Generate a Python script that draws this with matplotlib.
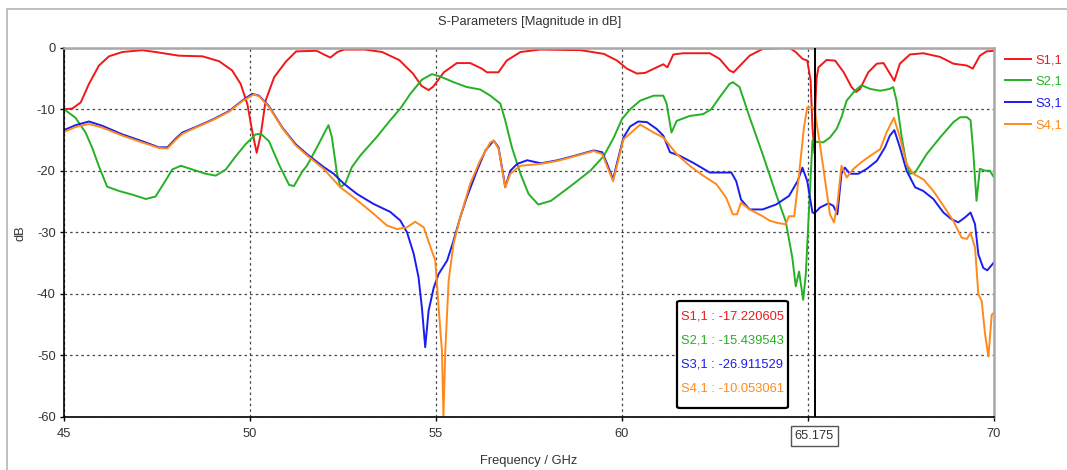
import matplotlib
matplotlib.use("Agg")
import matplotlib.pyplot as plt
from matplotlib.patches import Rectangle, FancyBboxPatch

plt.rcParams["font.family"] = ["Liberation Sans", "DejaVu Sans"]
plt.rcParams["axes.unicode_minus"] = False

# S-parameter traces (GHz, dB)
s11_f = [45, 45.22, 45.45, 45.67, 45.94, 46.21, 46.57, 47.1, 47.46, 48.09, 48.72, 49.17,
         49.52, 49.75, 49.93, 50.06, 50.18, 50.29, 50.42, 50.65, 50.96, 51.24, 51.79, 52.02,
         52.16, 52.35, 52.53, 53.09, 53.55, 54.01, 54.38, 54.61, 54.8, 54.93, 55.21, 55.56,
         55.92, 56.23, 56.37, 56.68, 56.9, 57.27, 57.8, 58.89, 59.51, 59.87, 60.13, 60.4,
         60.62, 60.93, 61.11, 61.22, 61.38, 61.65, 62.36, 62.62, 62.89, 63.0, 63.16, 63.43,
         63.78, 64.49, 64.67, 64.85, 64.98, 65.07, 65.12, 65.175, 65.2, 65.23, 65.28, 65.5,
         65.73, 65.96, 66.17, 66.29, 66.4, 66.62, 66.85, 67.03, 67.2, 67.32, 67.47, 67.74,
         68.1, 68.55, 68.91, 69.27, 69.43, 69.62, 69.8, 70]
s11_db = [-10, -9.9, -8.9, -5.9, -2.9, -1.4, -0.7, -0.4, -0.7, -1.3, -1.4, -2.2,
          -3.7, -5.9, -9.2, -13.6, -17.1, -14.1, -8.6, -4.8, -2.3, -0.6, -0.5, -1.2,
          -1.6, -0.7, -0.3, -0.3, -0.7, -2.0, -4.2, -6.2, -6.9, -6.3, -4.0, -2.5,
          -2.5, -3.4, -4.0, -4.0, -2.1, -0.7, -0.3, -0.4, -1.0, -2.1, -3.4, -4.2,
          -4.1, -3.2, -2.7, -3.2, -1.1, -0.9, -0.9, -1.8, -3.7, -4.0, -3.0, -1.3,
          -0.2, 0, -0.7, -1.8, -2.1, -5.3, -13.0, -17.2, -9.0, -5.0, -3.2, -2.0,
          -2.1, -4.0, -6.4, -7.2, -6.7, -4.0, -2.6, -2.5, -4.2, -5.4, -2.6, -1.1,
          -0.9, -1.5, -2.6, -2.9, -3.4, -1.3, -0.6, -0.5]

s21_f = [45, 45.31, 45.58, 45.76, 45.94, 46.16, 46.48, 46.84, 47.2, 47.46, 47.69, 47.91,
         48.14, 48.45, 48.81, 49.08, 49.35, 49.61, 49.88, 50.15, 50.29, 50.51, 50.78, 51.05,
         51.18, 51.41, 51.53, 51.8, 52.03, 52.11, 52.2, 52.34, 52.43, 52.56, 52.74, 52.97,
         53.41, 53.77, 54.04, 54.31, 54.62, 54.89, 55.12, 55.47, 55.83, 56.19, 56.46, 56.73,
         56.86, 57.04, 57.27, 57.49, 57.75, 58.09, 58.62, 59.15, 59.51, 59.78, 60.0, 60.22,
         60.49, 60.85, 61.11, 61.2, 61.33, 61.47, 61.82, 62.18, 62.4, 62.62, 62.89, 62.98,
         63.16, 63.43, 63.78, 64.14, 64.4, 64.58, 64.67, 64.76, 64.87, 64.94, 65.03, 65.12,
         65.175, 65.23, 65.41, 65.59, 65.77, 65.9, 66.04, 66.26, 66.44, 66.67, 66.94, 67.2,
         67.29, 67.38, 67.52, 67.65, 67.74, 67.88, 68.19, 68.55, 68.91, 69.09, 69.27, 69.37,
         69.44, 69.53, 69.62, 69.76, 69.89, 70]
s21_db = [-10, -11.4, -13.8, -16.3, -19.3, -22.6, -23.3, -23.9, -24.6, -24.2, -22.0, -19.8,
          -19.2, -19.8, -20.5, -20.8, -19.8, -17.7, -15.7, -14.1, -14.0, -15.2, -19.0, -22.3,
          -22.5, -20.1, -19.2, -16.2, -13.5, -12.6, -14.5, -20.5, -22.7, -22.1, -19.4, -17.5,
          -14.5, -11.8, -9.9, -7.5, -5.2, -4.3, -4.7, -5.6, -6.4, -6.8, -7.8, -9.1,
          -11.8, -16.2, -20.5, -23.8, -25.5, -24.9, -22.5, -20.0, -17.6, -14.6, -11.6, -10.0,
          -8.6, -7.8, -7.8, -9.1, -13.8, -11.9, -11.1, -10.8, -10.0, -8.1, -5.9, -5.6,
          -6.4, -11.3, -17.3, -23.8, -28.2, -34.2, -38.8, -36.4, -41.0, -36.9, -26.0, -15.1,
          -15.4, -15.3, -15.4, -14.6, -13.2, -11.3, -8.6, -7.0, -6.1, -6.7, -7.0, -6.7,
          -6.4, -8.6, -14.6, -18.9, -20.5, -20.3, -17.3, -14.6, -12.1, -11.3, -11.3, -11.8,
          -16.7, -24.9, -19.7, -20.0, -20.0, -21.1]

s31_f = [45, 45.31, 45.67, 46.03, 46.57, 47.1, 47.55, 47.78, 48.0, 48.18, 48.54, 48.99,
         49.44, 49.79, 50.06, 50.24, 50.51, 50.87, 51.23, 51.53, 51.98, 52.25, 52.52, 52.88,
         53.32, 53.77, 54.04, 54.22, 54.4, 54.53, 54.62, 54.71, 54.8, 54.94, 55.07, 55.3,
         55.47, 55.65, 55.83, 56.1, 56.33, 56.55, 56.68, 56.82, 56.86, 57.0, 57.18, 57.45,
         57.82, 58.27, 58.71, 59.24, 59.47, 59.6, 59.76, 59.88, 60.04, 60.22, 60.44, 60.67,
         60.93, 61.11, 61.29, 61.56, 61.91, 62.36, 62.71, 62.94, 63.07, 63.2, 63.43, 63.78,
         64.14, 64.49, 64.72, 64.85, 64.98, 65.12, 65.175, 65.32, 65.55, 65.68, 65.79, 65.9,
         65.99, 66.13, 66.35, 66.58, 66.85, 67.07, 67.2, 67.32, 67.47, 67.65, 67.88, 68.1,
         68.37, 68.64, 68.86, 69.04, 69.22, 69.37, 69.49, 69.58, 69.71, 69.82, 70]
s31_db = [-13.4, -12.6, -12.0, -12.7, -14.1, -15.2, -16.2, -16.2, -14.8, -13.8, -12.9, -11.7,
          -10.3, -8.6, -7.5, -7.8, -9.5, -13.0, -15.7, -17.3, -19.4, -20.5, -22.1, -23.8,
          -25.4, -26.7, -28.1, -30.0, -33.5, -37.3, -42.2, -48.7, -42.8, -39.0, -36.8, -34.6,
          -31.4, -27.6, -24.3, -20.0, -16.7, -15.1, -16.2, -21.1, -22.7, -20.0, -18.9, -18.3,
          -18.8, -18.3, -17.6, -16.7, -17.0, -18.9, -21.4, -18.4, -14.6, -12.8, -12.0, -12.1,
          -13.2, -14.3, -17.0, -17.6, -18.7, -20.3, -20.3, -20.3, -21.7, -24.7, -26.3, -26.3,
          -25.5, -24.1, -21.7, -19.5, -21.7, -26.8, -26.9, -26.0, -25.3, -25.7, -27.1, -20.5,
          -19.5, -20.5, -20.5, -19.7, -18.4, -16.2, -14.3, -13.4, -16.2, -20.0, -22.7, -23.3,
          -24.6, -26.8, -27.9, -28.4, -27.6, -26.8, -28.7, -33.6, -35.8, -36.2, -34.9]

s41_f = [45, 45.31, 45.67, 46.03, 46.57, 47.1, 47.55, 47.78, 48.0, 48.18, 48.54, 48.99,
         49.44, 49.79, 50.1, 50.24, 50.51, 50.87, 51.23, 51.53, 51.98, 52.43, 52.88, 53.32,
         53.68, 53.95, 54.22, 54.44, 54.67, 54.85, 54.98, 55.07, 55.16, 55.2, 55.25, 55.34,
         55.47, 55.65, 55.92, 56.19, 56.46, 56.55, 56.68, 56.86, 57.0, 57.27, 57.8, 58.27,
         59.24, 59.47, 59.76, 60.04, 60.49, 60.85, 61.11, 61.47, 61.82, 62.18, 62.54, 62.8,
         62.98, 63.09, 63.2, 63.43, 63.78, 63.96, 64.18, 64.4, 64.49, 64.63, 64.76, 64.89,
         64.98, 65.12, 65.175, 65.32, 65.46, 65.59, 65.7, 65.79, 65.9, 66.04, 66.22, 66.44,
         66.67, 66.94, 67.11, 67.31, 67.47, 67.65, 67.83, 68.1, 68.37, 68.64, 68.91, 69.13,
         69.27, 69.37, 69.49, 69.58, 69.67, 69.76, 69.85, 69.94, 70]
s41_db = [-13.7, -12.9, -12.4, -13.0, -14.3, -15.4, -16.3, -16.4, -15.0, -14.0, -13.0, -11.8,
          -10.4, -8.7, -7.6, -7.9, -9.6, -13.1, -15.9, -17.5, -19.7, -22.7, -24.8, -27.0,
          -28.9, -29.5, -29.2, -28.3, -29.2, -32.4, -34.6, -42.2, -49.3, -60.0, -49.3, -37.9,
          -31.9, -27.6, -22.1, -18.3, -15.4, -15.1, -16.4, -22.7, -20.5, -19.2, -18.9, -18.4,
          -16.8, -17.3, -21.7, -14.9, -12.5, -13.8, -14.6, -17.3, -19.2, -20.8, -22.2, -24.4,
          -27.1, -27.1, -25.2, -26.3, -27.4, -28.1, -28.5, -28.7, -27.4, -27.4, -20.6, -13.0,
          -9.7, -9.7, -10.05, -15.7, -21.6, -27.1, -28.4, -25.4, -19.2, -21.1, -19.7, -18.6,
          -17.6, -16.5, -13.8, -11.4, -14.6, -18.9, -20.5, -21.4, -23.3, -25.7, -28.2, -30.9,
          -31.1, -30.1, -32.5, -40.1, -41.2, -46.6, -50.2, -43.4, -43.1]

labels = ["S1,1", "S2,1", "S3,1", "S4,1"]
colors = ["#f01818", "#26b026", "#1c1cf0", "#ff8a1c"]
marker_f = 65.175
marker_vals = ["-17.220605", "-15.439543", "-26.911529", "-10.053061"]

W, H = 1067, 470
FS = 9.3


def fx(px):
    return px / W


def fy(py):
    return 1 - py / H


fig = plt.figure(figsize=(W / 100, H / 100), dpi=100)
fig.patch.set_facecolor("white")

# light outer frame of the plot window
fig.patches.append(Rectangle((fx(7), -0.1), 1.2, fy(9) + 0.1, transform=fig.transFigure,
                             fill=False, edgecolor="#b4b4b4", linewidth=1.2))

ax = fig.add_axes([fx(64), fy(416.7), fx(994) - fx(64), fy(47.7) - fy(416.7)])

traces = [(s11_f, s11_db), (s21_f, s21_db), (s31_f, s31_db), (s41_f, s41_db)]
for (f, db), lab, col in zip(traces, labels, colors):
    ax.plot(f, db, color=col, linewidth=1.4, label=lab)

ax.axvline(marker_f, color="black", linewidth=1.4, zorder=5)

ax.set_xlim(45, 70)
ax.set_ylim(-60, 0)
ax.set_xticks([45, 50, 55, 60, 65, 70])
ax.set_xticklabels(["45", "50", "55", "60", "", "70"])
ax.set_yticks([0, -10, -20, -30, -40, -50, -60])
ax.grid(True, linestyle=(0, (2, 2.5)), color="#444444", linewidth=0.9)
ax.tick_params(direction="out", length=3, width=1, labelsize=FS, colors="black",
               labelcolor="#333333", top=False, right=False)
ax.tick_params(axis="x", pad=5)
ax.tick_params(axis="y", pad=3)

for side in ["left", "bottom"]:
    ax.spines[side].set_color("black")
    ax.spines[side].set_linewidth(1.2)
for side in ["top", "right"]:
    ax.spines[side].set_color("#a8a8a8")
    ax.spines[side].set_linewidth(1.8)

fig.text(fx(530), fy(22), "S-Parameters [Magnitude in dB]", ha="center", va="center",
         fontsize=FS, color="#333333")
fig.text(fx(529), fy(461), "Frequency / GHz", ha="center", va="center",
         fontsize=FS, color="#333333")
fig.text(fx(21), fy(233), "dB", ha="center", va="center", rotation=90,
         fontsize=FS, color="#333333")

# marker readout box
fig.patches.append(FancyBboxPatch((fx(677), fy(408)), fx(788) - fx(677), fy(301) - fy(408),
                                  boxstyle="round,pad=0,rounding_size=0.003",
                                  transform=fig.transFigure, facecolor="white",
                                  edgecolor="black", linewidth=1.6, zorder=10))
for i, (lab, val, col) in enumerate(zip(labels, marker_vals, colors)):
    fig.text(fx(681), fy(316.5 + i * 24), lab + " : " + val, ha="left", va="center",
             fontsize=FS, color=col, zorder=11)

fig.text(fx(814), fy(436), str(marker_f), ha="center", va="center", fontsize=FS,
         color="#333333",
         bbox=dict(boxstyle="square,pad=0.3", facecolor="white", edgecolor="#555555",
                   linewidth=1))

# legend sits at the right edge; pulled in a little so the labels stay whole
ax.legend(loc="upper left", bbox_to_anchor=(fx(1005), fy(54)), bbox_transform=fig.transFigure,
          frameon=False, fontsize=FS, labelcolor="linecolor", handlelength=2.0,
          handletextpad=0.35, labelspacing=0.75, borderpad=0, borderaxespad=0)

fig.savefig("out.png", dpi=100)
